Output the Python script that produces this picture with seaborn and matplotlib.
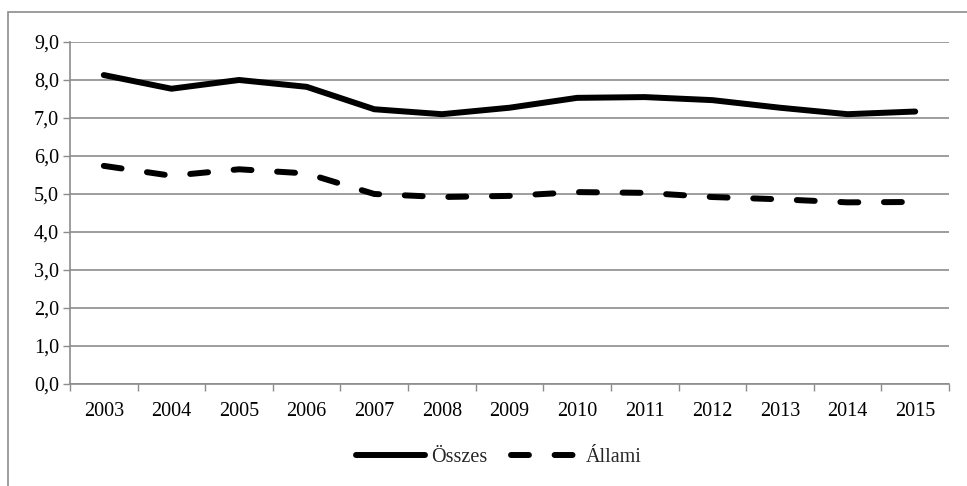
import numpy as np
import pandas as pd
import matplotlib
matplotlib.use("Agg")
import matplotlib.pyplot as plt
import seaborn as sns
from matplotlib.patches import Rectangle
from matplotlib.ticker import FixedLocator, FuncFormatter

years = ["2003", "2004", "2005", "2006", "2007", "2008", "2009",
         "2010", "2011", "2012", "2013", "2014", "2015"]
osszes = [8.13, 7.77, 8.00, 7.82, 7.23, 7.10, 7.27, 7.53, 7.55, 7.47, 7.27, 7.10, 7.17]
allami = [5.74, 5.48, 5.65, 5.54, 5.00, 4.92, 4.95, 5.05, 5.03, 4.92, 4.86, 4.78, 4.79]

sns.set_theme(style="white")
plt.rcParams["font.family"] = ["Liberation Serif", "DejaVu Serif"]

df = pd.DataFrame({"year": years, "Összes": osszes, "Állami": allami})
pos = np.arange(len(years))

fig = plt.figure(figsize=(9.67, 4.86), dpi=100)
ax = fig.add_axes([0.0724, 0.2099, 0.9090, 0.7037])

grid_c = "#8c8c8c"
fs = 14.5
sns.lineplot(x=pos, y=df["Összes"], ax=ax, color="black", linewidth=4.3,
             solid_capstyle="round", label="Összes")
sns.lineplot(x=pos, y=df["Állami"], ax=ax, color="black", linewidth=4.3,
             label="Állami", dashes=False)
ax.lines[1].set_dashes([3.0, 4.3])
ax.lines[1].set_dash_capstyle("round")

ax.set_xlim(-0.5, len(years) - 0.5)
ax.set_ylim(0, 9)
ax.set_yticks(np.arange(0, 10, 1))
ax.yaxis.set_major_formatter(FuncFormatter(lambda v, p: f"{v:.1f}".replace(".", ",")))
ax.set_xticks(pos)
ax.set_xticklabels(years)
ax.xaxis.set_minor_locator(FixedLocator(np.arange(-0.5, len(years), 1)))
ax.tick_params(axis="x", which="major", length=0, pad=13, labelsize=fs, colors="black")
ax.tick_params(axis="x", which="minor", length=5, width=1, color=grid_c, direction="out", bottom=True)
ax.tick_params(axis="y", which="major", length=5, width=1, color=grid_c, direction="out",
               left=True, labelsize=fs, labelcolor="black", pad=3)
ax.grid(axis="y", color=grid_c, linewidth=1.2)
ax.set_axisbelow(True)
for s in ["top", "right"]:
    ax.spines[s].set_visible(False)
for s in ["left", "bottom"]:
    ax.spines[s].set_color(grid_c)
    ax.spines[s].set_linewidth(1.2)
ax.set_xlabel("")
ax.set_ylabel("")

ax.legend(loc="center", bbox_to_anchor=(0.488, -0.215), ncol=2, frameon=False,
          fontsize=fs, handlelength=3.4, handletextpad=0.3, columnspacing=1.2)

fig.patches.append(Rectangle((8 / 967, -0.1), 1.2, (486 - 12) / 486 + 0.1,
                             transform=fig.transFigure, fill=False,
                             edgecolor=grid_c, linewidth=1.2))

fig.savefig("out.png", dpi=100)
